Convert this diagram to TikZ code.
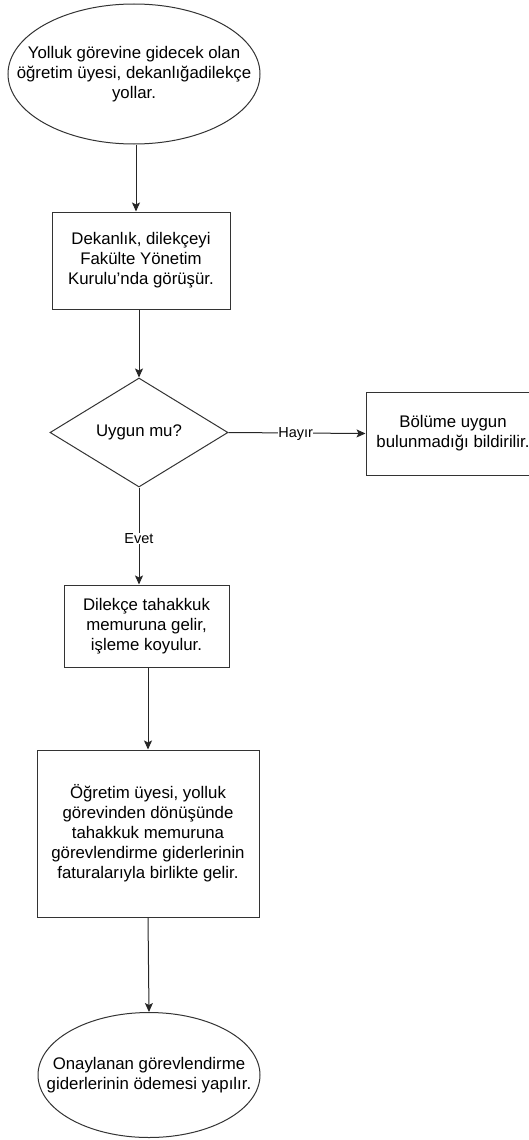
\documentclass[tikz,border=0pt]{standalone}
\usepackage{fontspec}
\setmainfont{Liberation Sans}
\usetikzlibrary{shapes.geometric,arrows.meta}
\newcommand\mainfs{\fontsize{16.8}{20}\selectfont}
\newcommand\lblfs{\fontsize{14.5}{17}\selectfont}
\begin{document}
\begin{tikzpicture}[x=1pt,y=-1pt,
  every node/.style={text=black},
  shp/.style={draw=black!80, line width=1pt, inner sep=0pt, align=center, font=\mainfs},
  boxnode/.style={shp, rectangle},
  ellnode/.style={shp, draw=none, rectangle},
  ellline/.style={draw=black!80, line width=1pt},
  decnode/.style={shp, diamond, aspect=1.63},
  conn/.style={draw=black!85, line width=1pt, -{Stealth[length=9pt,width=8pt,inset=2pt]}},
  lbl/.style={font=\lblfs, fill=white, inner sep=0.5pt}]
\useasboundingbox (0,0) rectangle (529,1140);
\node[ellnode, minimum width=252pt, minimum height=140pt] (e1) at (134,74)
  {Yolluk görevine gidecek olan\\öğretim üyesi, dekanlığadilekçe\\yollar.};
\path[ellline] (e1.center) ellipse [x radius=126pt, y radius=70pt];
\node[boxnode, minimum width=178pt, minimum height=97pt] (r2) at (141,260.5)
  {Dekanlık, dilekçeyi\\Fakülte Yönetim\\Kurulu’nda görüşür.};
\node[decnode, minimum width=178pt, minimum height=109pt] (d) at (139,432.5)
  {Uygun mu?};
\node[boxnode, minimum width=174pt, minimum height=83pt] (rr) at (453,433.5)
  {Bölüme uygun\\bulunmadığı bildirilir.};
\node[boxnode, minimum width=165pt, minimum height=82pt] (r3) at (146.5,626)
  {Dilekçe tahakkuk\\memuruna gelir,\\işleme koyulur.};
\node[boxnode, minimum width=222pt, minimum height=167pt] (r4) at (148,833.5)
  {Öğretim üyesi, yolluk\\görevinden dönüşünde\\tahakkuk memuruna\\görevlendirme giderlerinin\\faturalarıyla birlikte gelir.};
\node[ellnode, minimum width=222pt, minimum height=125pt] (e2) at (149,1075)
  {Onaylanan görevlendirme\\giderlerinin ödemesi yapılır.};
\path[ellline] (e2.center) ellipse [x radius=111pt, y radius=62.5pt];
\path[conn] ([xshift=2pt]e1.south) -- ([xshift=2pt]e1.south |- r2.north);
\path[conn] (d.north |- r2.south) -- (d.north);
\path[conn] (d.east) -- node[lbl, pos=0.49, yshift=-1pt] (hayir) {Hayır} (rr.west);
\path[conn] (d.south) -- node[lbl, pos=0.53] (evet) {Evet} (d.south |- r3.north);
\path[conn] (r4.north |- r3.south) -- (r4.north);
\path[conn] (r4.south) -- (e2.north);
\end{tikzpicture}
\end{document}
